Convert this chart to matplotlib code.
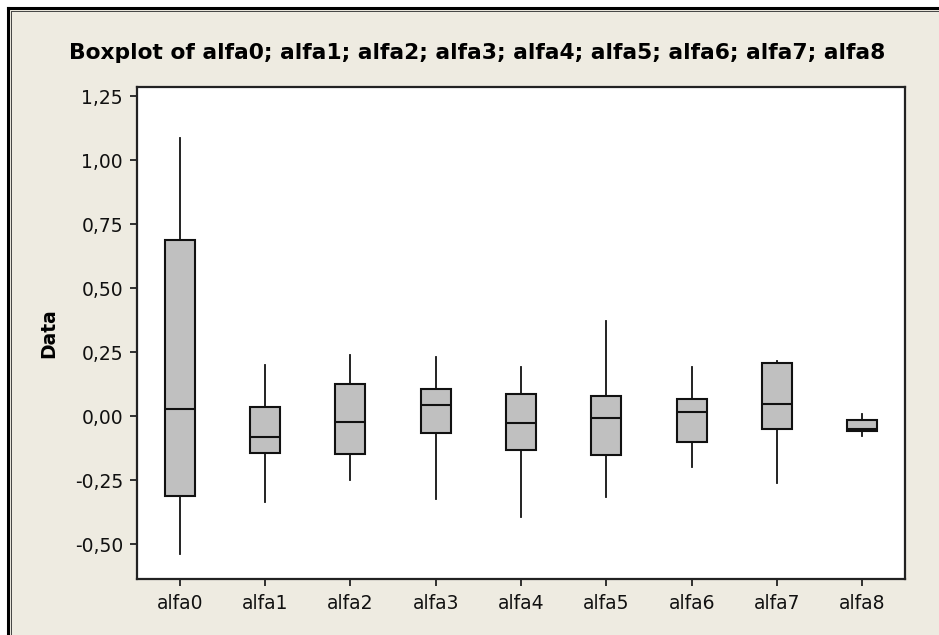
import matplotlib
matplotlib.use('Agg')
import matplotlib.pyplot as plt
import matplotlib.ticker
from matplotlib.patches import Rectangle
from matplotlib.lines import Line2D

# 各列の要約統計量 (下ひげ, Q1, 中央値, Q3, 上ひげ)
labels = ["alfa0", "alfa1", "alfa2", "alfa3", "alfa4", "alfa5", "alfa6", "alfa7", "alfa8"]
whisker_low = [-0.537, -0.333, -0.249, -0.321, -0.391, -0.313, -0.199, -0.261, -0.077]
q1 = [-0.309, -0.141, -0.148, -0.066, -0.131, -0.149, -0.098, -0.048, -0.058]
median = [0.029, -0.079, -0.021, 0.044, -0.027, -0.007, 0.018, 0.050, -0.048]
q3 = [0.688, 0.037, 0.126, 0.107, 0.088, 0.081, 0.068, 0.209, -0.015]
whisker_high = [1.089, 0.201, 0.240, 0.234, 0.195, 0.373, 0.195, 0.218, 0.009]
y_ticks = [-0.50, -0.25, 0.00, 0.25, 0.50, 0.75, 1.00, 1.25]

BG = "#EEEBE1"
W, H = 939, 635

fig = plt.figure(figsize=(W / 100, H / 100), dpi=100, facecolor="white")

# 外枠（上と左の二重線）と背景
fig.add_artist(Rectangle((10 / W, 0), 1, 1 - 10 / H, transform=fig.transFigure,
                         facecolor=BG, edgecolor="none", zorder=0))
fig.add_artist(Line2D([7.5 / W, 7.5 / W], [0, 1 - 7.5 / H], transform=fig.transFigure,
                      color="black", linewidth=2.2))
fig.add_artist(Line2D([7.5 / W, 1], [1 - 7.5 / H, 1 - 7.5 / H], transform=fig.transFigure,
                      color="black", linewidth=2.2))
fig.add_artist(Line2D([10.5 / W, 10.5 / W], [0, 1 - 10.5 / H], transform=fig.transFigure,
                      color="#444444", linewidth=0.7))
fig.add_artist(Line2D([10.5 / W, 1], [1 - 10.5 / H, 1 - 10.5 / H], transform=fig.transFigure,
                      color="#444444", linewidth=0.7))

ax = fig.add_axes([137 / W, 1 - 579 / H, (905 - 137) / W, (579 - 87) / H])
ax.set_facecolor("white")

stats = []
for i, name in enumerate(labels):
    stats.append({"label": name, "whislo": whisker_low[i], "q1": q1[i], "med": median[i],
                  "q3": q3[i], "whishi": whisker_high[i], "fliers": []})

ax.bxp(stats, positions=range(len(labels)), widths=0.35, patch_artist=True,
       showcaps=False, showfliers=False,
       boxprops=dict(facecolor="#C0C0C0", edgecolor="#111111", linewidth=1.5),
       medianprops=dict(color="#111111", linewidth=1.5),
       whiskerprops=dict(color="#111111", linewidth=1.3))

ax.set_xlim(-0.5, 8.5)
ax.set_ylim(-0.635, 1.287)
ax.set_yticks(y_ticks)
ax.yaxis.set_major_formatter(matplotlib.ticker.FuncFormatter(
    lambda v, p: ("%.2f" % v).replace(".", ",")))
ax.set_xticks(range(len(labels)))
ax.set_xticklabels(labels)

for sp in ax.spines.values():
    sp.set_linewidth(1.6)
    sp.set_color("#222222")
ax.tick_params(axis="both", direction="out", length=5, width=1.3, color="#222222",
               labelsize=13.5, labelcolor="#111111")
ax.tick_params(axis="y", pad=5)
ax.tick_params(axis="x", pad=6)

ax.set_ylabel("Data", fontsize=13.5, fontweight="bold", labelpad=12)
fig.text(477 / W, 1 - 53 / H, "Boxplot of alfa0; alfa1; alfa2; alfa3; alfa4; alfa5; alfa6; alfa7; alfa8",
         ha="center", va="center", fontsize=15.7, fontweight="bold")

plt.savefig("out.png", dpi=100, facecolor=fig.get_facecolor())
